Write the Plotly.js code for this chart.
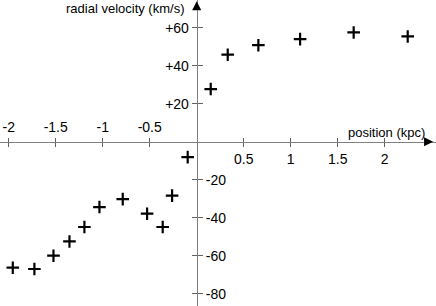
<!DOCTYPE html>
<html><head><meta charset="utf-8">
<script src="https://cdn.plot.ly/plotly-3.0.1.min.js"></script>
<style>html,body{margin:0;padding:0;background:#fff}#c{width:436px;height:306px}</style>
</head><body><div id="c"></div>
<script>
// Data
const positionKpc = [-1.957, -1.727, -1.524, -1.354, -1.195, -1.035, -0.787, -0.528, -0.362, -0.262, -0.096,
                     0.149, 0.33, 0.656, 1.10, 1.67, 2.245];
const velocityKms = [-66.3, -67.0, -60.0, -52.5, -44.9, -34.4, -30.2, -37.9, -44.9, -28.4, -8.1,
                     27.7, 45.8, 50.8, 54.0, 57.5, 55.4];
const xTickVals = [-2, -1.5, -1, -0.5, 0.5, 1, 1.5, 2];
const xTickTextNeg = ['-2', '-1.5', '-1', '-0.5'];
const xTickTextPos = ['0.5', '1', '1.5', '2'];
const yTickVals = [60, 40, 20, -20, -40, -60, -80];
const yTickTextPos = ['+60', '+40', '+20'];
const yTickTextNeg = ['-20', '-40', '-60', '-80'];
const xTitle = 'position (kpc)';
const yTitle = 'radial velocity (km/s)';

const W = 436, H = 306;
const xRange = [-2.093, 2.546];
const yRange = [-86.47, 74.58];
const xAxisPos = (0 - yRange[0]) / (yRange[1] - yRange[0]);
const yAxisPos = (0 - xRange[0]) / (xRange[1] - xRange[0]);

const font = {family: 'Liberation Sans, Arial, sans-serif', size: 14, color: '#000'};
const axisCommon = {showgrid: false, zeroline: false, showline: true, linecolor: '#808080', linewidth: 1.3,
  ticks: 'outside', ticklen: 5, tickwidth: 1, tickcolor: '#606060', tickfont: font, anchor: 'free', tickmode: 'array'};

const xNegText = xTickVals.map(v => v < 0 ? xTickTextNeg[[-2,-1.5,-1,-0.5].indexOf(v)] : '');
const xPosText = xTickVals.map(v => v > 0 ? xTickTextPos[[0.5,1,1.5,2].indexOf(v)] : '');
const yPosText = yTickVals.map((v, i) => v > 0 ? yTickTextPos[i] : '');
const yNegText = yTickVals.map((v, i) => v < 0 ? yTickTextNeg[i - yTickTextPos.length] : '');

const data = [{
  type: 'scatter', mode: 'markers', x: positionKpc, y: velocityKms,
  marker: {symbol: 'cross-thin', size: 9, color: '#000', line: {color: '#000', width: 2.2}},
  hoverinfo: 'skip', showlegend: false
}, {
  // invisible helper so the overlaying axes (opposite-side tick labels) get drawn
  type: 'scatter', mode: 'markers', x: [xRange[0]], y: [yRange[0]], xaxis: 'x2', yaxis: 'y2',
  marker: {opacity: 0}, hoverinfo: 'skip', showlegend: false
}];

const layout = {
  width: W, height: H, margin: {l: 0, r: 0, t: 0, b: 0, pad: 0},
  paper_bgcolor: '#fff', plot_bgcolor: '#fff', showlegend: false,
  xaxis: Object.assign({}, axisCommon, {range: xRange, position: xAxisPos, side: 'bottom',
    tickvals: xTickVals, ticktext: xPosText, ticklen: 4}),
  xaxis2: Object.assign({}, axisCommon, {range: xRange, position: xAxisPos, side: 'top', overlaying: 'x',
    tickvals: xTickVals, ticktext: xNegText, ticklen: 4}),
  yaxis: Object.assign({}, axisCommon, {range: yRange, position: yAxisPos, side: 'left',
    tickvals: yTickVals, ticktext: yPosText}),
  yaxis2: Object.assign({}, axisCommon, {range: yRange, position: yAxisPos, side: 'right', overlaying: 'y',
    tickvals: yTickVals, ticktext: yNegText}),
  annotations: [
    {xref: 'paper', yref: 'paper', x: 186 / W, y: 1 - 8 / H, xanchor: 'right', yanchor: 'middle',
     text: yTitle, showarrow: false, font: {family: font.family, size: 13, color: '#000'}},
    {xref: 'paper', yref: 'paper', x: 427 / W, y: 1 - 132 / H, xanchor: 'right', yanchor: 'middle',
     text: xTitle, showarrow: false, font: {family: font.family, size: 13, color: '#000'}},
    {xref: 'x', yref: 'y', x: 0, y: yRange[1] - 0.6, ax: 0, ay: 8, axref: 'pixel', ayref: 'pixel',
     text: '', showarrow: true, arrowhead: 2, arrowsize: 1.4, arrowwidth: 1.3, arrowcolor: '#000', standoff: 0},
    {xref: 'x', yref: 'y', x: xRange[1] - 0.03, y: 0, ax: -8, ay: 0, axref: 'pixel', ayref: 'pixel',
     text: '', showarrow: true, arrowhead: 2, arrowsize: 1.4, arrowwidth: 1.3, arrowcolor: '#000', standoff: 0}
  ]
};

Plotly.newPlot('c', data, layout, {staticPlot: true, displayModeBar: false});
</script></body></html>
